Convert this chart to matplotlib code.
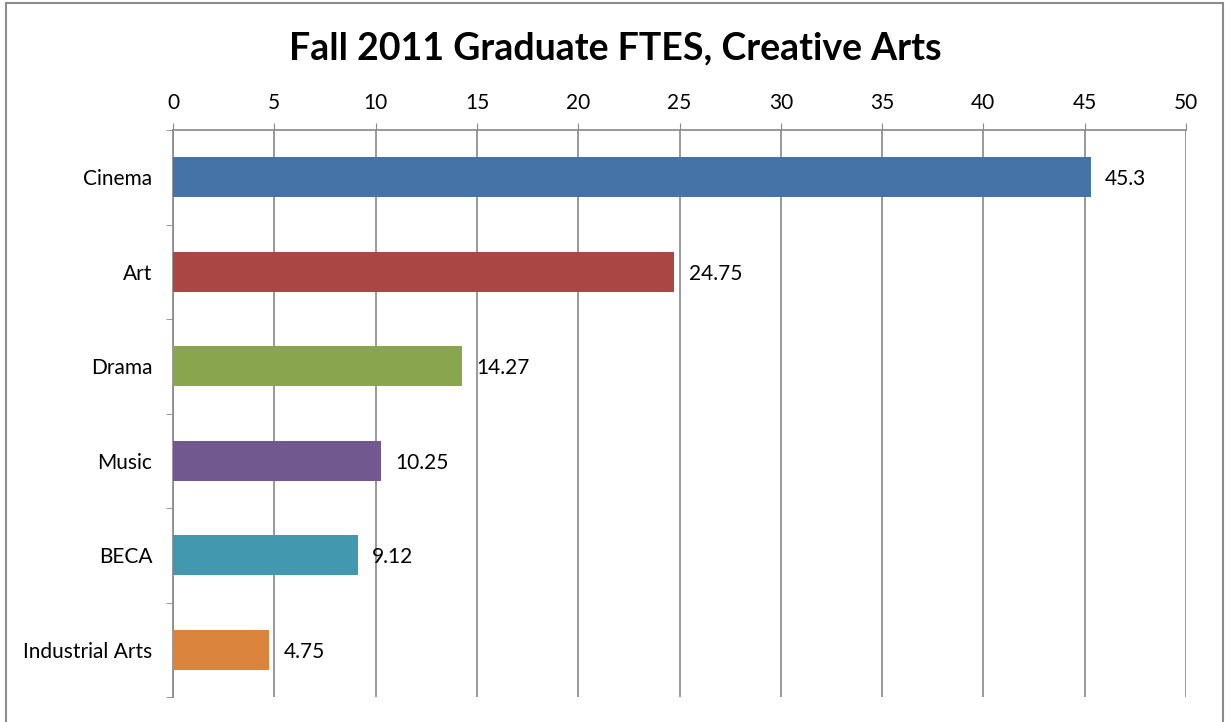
import matplotlib.pyplot as plt
from matplotlib.patches import Rectangle

categories = ["Cinema", "Art", "Drama", "Music", "BECA", "Industrial Arts"]
ftes = [45.3, 24.75, 14.27, 10.25, 9.12, 4.75]
labels = ["45.3", "24.75", "14.27", "10.25", "9.12", "4.75"]
colors = ["#4572A7", "#AA4643", "#89A54E", "#71588F", "#4198AF", "#DB843D"]
xticks = [0, 5, 10, 15, 20, 25, 30, 35, 40, 45, 50]

plt.rcParams['font.family'] = ['Lato', 'DejaVu Sans']

W, H = 1225, 722
fig = plt.figure(figsize=(W / 100, H / 100), dpi=100)

# outer chart frame (bottom edge cut off in the reference)
fig.patches.append(Rectangle((6 / W, -0.05), (1223 - 6) / W, 1.05 - 3 / H,
                             transform=fig.transFigure, fill=False,
                             edgecolor="#8c8c8c", linewidth=1.5))

ax = fig.add_axes([173 / W, 1 - 697 / H, (1186 - 173) / W, (697 - 130) / H])

y = list(range(len(categories)))
ax.barh(y, ftes, height=0.42, color=colors, zorder=3)
for yi, v, lab in zip(y, ftes, labels):
    ax.text(v + 0.7, yi + 0.02, lab, va="center", ha="left", fontsize=15, color="black")

ax.set_xlim(0, 50)
ax.set_ylim(len(categories) - 0.5, -0.5)
ax.set_xticks(xticks)
ax.xaxis.tick_top()
ax.tick_params(axis="x", length=5, color="#888888", labelsize=15, pad=7)
ax.grid(axis="x", color="#888888", linewidth=1.2, zorder=0)

# category labels at band centres, tick marks at band edges
ax.set_yticks(y)
ax.set_yticklabels(categories, fontsize=15)
ax.tick_params(axis="y", length=0, pad=15)
ax.set_yticks([i - 0.5 for i in range(len(categories) + 1)], minor=True)
ax.tick_params(axis="y", which="minor", length=5, color="#888888")

for side in ["right", "bottom"]:
    ax.spines[side].set_visible(False)
for side in ["top", "left"]:
    ax.spines[side].set_color("#888888")
    ax.spines[side].set_linewidth(1.2)

fig.text(0.5 * (290 + 940) / W, 1 - 48 / H, "Fall 2011 Graduate FTES, Creative Arts",
         ha="center", va="center", fontsize=27, fontweight="bold")

plt.savefig("out.png", dpi=100)
